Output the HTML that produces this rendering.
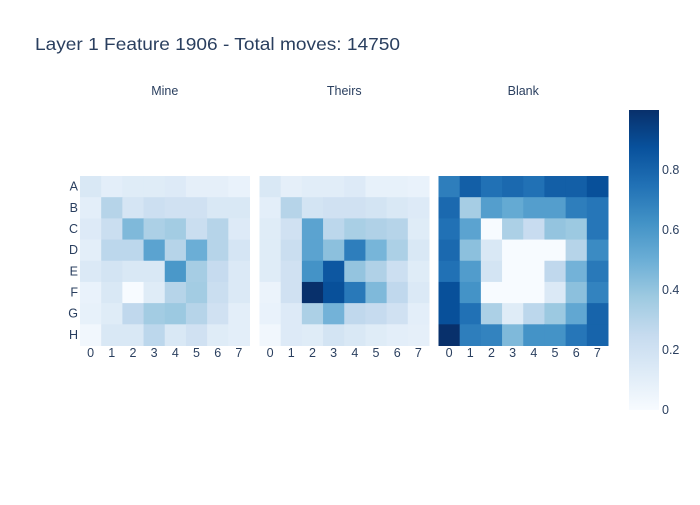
<!DOCTYPE html>
<html><head><meta charset="utf-8"><style>
body{margin:0;background:#fff;font-family:"Liberation Sans",sans-serif}
</style></head><body>
<svg id="c" width="700" height="500" xmlns="http://www.w3.org/2000/svg">
<defs><linearGradient id="cb" x1="0" y1="1" x2="0" y2="0">
<stop offset="0" stop-color="rgb(247,251,255)"/><stop offset="0.125" stop-color="rgb(222,235,247)"/><stop offset="0.25" stop-color="rgb(198,219,239)"/><stop offset="0.375" stop-color="rgb(158,202,225)"/><stop offset="0.5" stop-color="rgb(107,174,214)"/><stop offset="0.625" stop-color="rgb(66,146,198)"/><stop offset="0.75" stop-color="rgb(33,113,181)"/><stop offset="0.875" stop-color="rgb(8,81,156)"/><stop offset="1" stop-color="rgb(8,48,107)"/>
</linearGradient></defs>
<text x="35" y="50" font-size="17.5" textLength="365" lengthAdjust="spacingAndGlyphs" fill="#2a3f5f">Layer 1 Feature 1906 - Total moves: 14750</text>
</svg>
<script>
const rows=["A","B","C","D","E","F","G","H"];
const cols=["0","1","2","3","4","5","6","7"];
const panelTitles=["Mine","Theirs","Blank"];
const mine=[[.15,.1,.12,.12,.13,.09,.09,.07],[.1,.3,.17,.22,.2,.2,.15,.15],[.13,.23,.45,.33,.36,.23,.3,.13],[.1,.28,.28,.55,.3,.5,.3,.17],[.14,.18,.15,.15,.6,.35,.25,.14],[.07,.15,0,.12,.3,.36,.23,.14],[.08,.12,.27,.36,.38,.3,.2,.1],[.03,.15,.15,.28,.15,.2,.12,.1]];
const theirs=[[.15,.09,.11,.11,.13,.08,.08,.07],[.1,.3,.18,.2,.2,.18,.15,.13],[.12,.2,.55,.28,.34,.32,.3,.12],[.12,.23,.55,.42,.7,.47,.33,.15],[.12,.2,.62,.85,.4,.32,.22,.12],[.06,.2,1.0,.88,.72,.45,.27,.14],[.07,.13,.33,.48,.27,.25,.2,.1],[.03,.13,.12,.18,.15,.12,.1,.09]];
const blank=[[.7,.82,.75,.78,.75,.82,.82,.88],[.78,.35,.57,.52,.57,.57,.7,.73],[.75,.55,0,.33,.24,.4,.38,.73],[.78,.42,.15,0,0,0,.3,.65],[.75,.58,.18,0,0,.27,.48,.72],[.88,.62,0,0,0,.14,.42,.68],[.88,.75,.33,.12,.28,.38,.53,.8],[1.0,.7,.68,.45,.62,.62,.73,.8]];
const cbTicks=[0,0.2,0.4,0.6,0.8];
const scale=[[0,[247,251,255]],[.125,[222,235,247]],[.25,[198,219,239]],[.375,[158,202,225]],[.5,[107,174,214]],[.625,[66,146,198]],[.75,[33,113,181]],[.875,[8,81,156]],[1,[8,48,107]]];
function col(v){v=Math.max(0,Math.min(1,v));for(let i=1;i<scale.length;i++){if(v<=scale[i][0]){const a=scale[i-1],b=scale[i],t=(v-a[0])/(b[0]-a[0]);return 'rgb('+a[1].map((x,k)=>Math.round(x+(b[1][k]-x)*t)).join(',')+')';}}}
const svg=document.getElementById('c');const NS="http://www.w3.org/2000/svg";
function el(t,a,txt){const e=document.createElementNS(NS,t);for(const k in a)e.setAttribute(k,a[k]);if(txt!==undefined)e.textContent=txt;svg.appendChild(e);return e;}
const panelX=[80,259.5,438.5],top0=176,size=169.5,cw=size/8;
const datas=[mine,theirs,blank];const names=["mine","theirs","blank"];
datas.forEach((d,p)=>{
 const x0=panelX[p];
 const t=el('text',{x:x0+size/2,y:95,'font-size':12.5,fill:'#2a3f5f','text-anchor':'middle'},panelTitles[p]);
 
 
 d.forEach((r,i)=>r.forEach((v,j)=>{
  const c=el('rect',{x:x0+j*cw,y:top0+i*cw,width:cw+0.5,height:cw+0.5,fill:col(v)});
  
  
 }));
 cols.forEach((c,j)=>{const tx=el('text',{x:x0+(j+.5)*cw,y:357,'font-size':12.5,fill:'#2a3f5f','text-anchor':'middle'},c);
  
  });
});
rows.forEach((r,i)=>{const tx=el('text',{x:78,y:top0+(i+.5)*cw+4,'font-size':12.5,fill:'#2a3f5f','text-anchor':'end'},r);
 
 });
const cbTop=110,cbBot=410;
const cb=el('rect',{x:629,y:cbTop,width:30,height:cbBot-cbTop,fill:'url(#cb)'});


cbTicks.forEach(v=>{const y=cbBot-v*(cbBot-cbTop);
 const tx=el('text',{x:662,y:y+4,'font-size':12.5,fill:'#2a3f5f'},String(v));
 
 });
</script>
</body></html>
